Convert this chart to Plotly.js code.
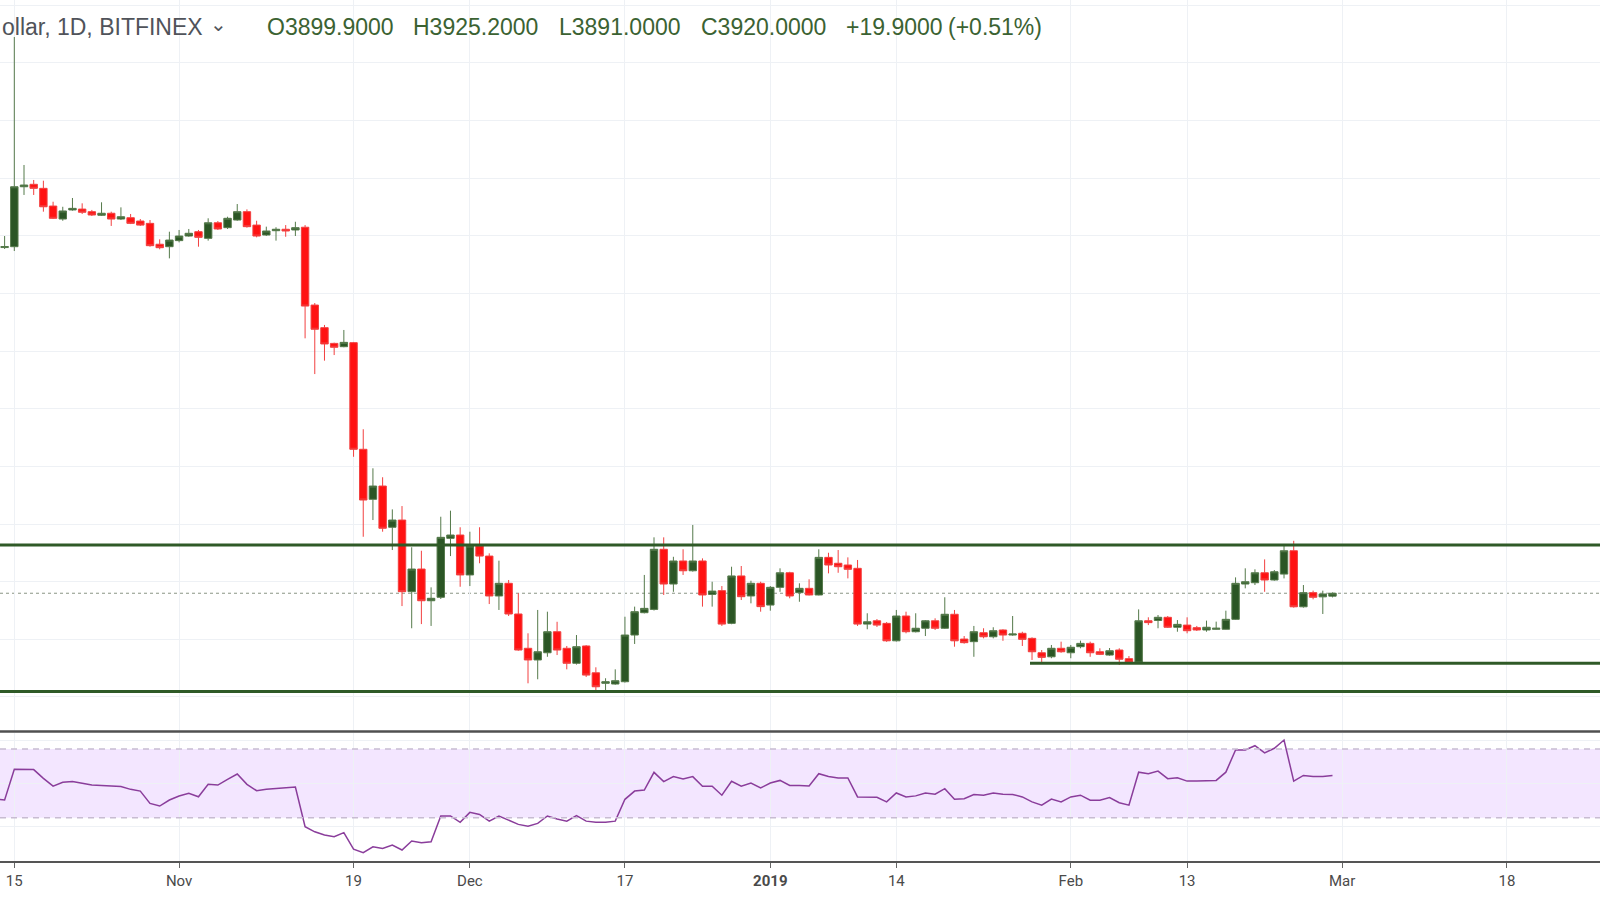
<!DOCTYPE html>
<html>
<head>
<meta charset="utf-8">
<script src="https://cdn.plot.ly/plotly-3.0.1.min.js"></script>
<style>html,body{margin:0;padding:0;background:#fff;}#chart{width:1600px;height:900px;}</style>
</head>
<body>
<div id="chart"></div>
<script>
// Daily candles, first candle 2018-10-14
const firstCandleDate = '2018-10-14';
const open = [6319,6325,6741,6758,6730,6607,6517,6580,6586,6568,6543,6557,6517,6526,6503,6487,6342,6325,6367,6399,6429,6383,6491,6457,6510,6568,6475,6406,6436,6446,6441,6460,5920,5763,5654,5631,5659,4919,4572,4664,4378,4428,3931,4088,3868,3892,4301,4324,4047,4248,4178,3901,3989,3776,3538,3457,3507,3653,3538,3434,3554,3368,3295,3290,3306,3630,3785,3808,4225,3984,4144,4076,4144,3912,3938,3711,4040,3901,3989,3838,3961,4062,3924,3954,3908,4169,4128,4116,4093,3706,3729,3711,3590,3762,3653,3677,3729,3677,3774,3602,3584,3646,3618,3665,3630,3642,3607,3507,3479,3538,3507,3549,3572,3514,3491,3526,3466,3443,3729,3731,3753,3684,3699,3681,3665,3670,3670,3739,3984,3993,4062,4012,4053,4215,3826,3924,3895,3899.9];
const high = [6399,7780,6892,6788,6783,6637,6602,6663,6626,6580,6633,6568,6598,6552,6517,6510,6376,6429,6441,6448,6441,6522,6503,6533,6621,6584,6505,6464,6460,6475,6498,6475,5934,5782,5659,5747,5664,5058,4787,4725,4502,4525,4239,4215,3961,4451,4493,4378,4347,4378,4197,4146,4012,3920,3642,3804,3792,3722,3554,3630,3560,3406,3330,3392,3757,3827,4047,4308,4308,4173,4225,4394,4162,4000,3970,4104,4109,4007,4000,3970,4093,4069,3989,4017,4225,4201,4220,4169,4151,3781,3741,3720,3804,3792,3781,3734,3746,3892,3804,3623,3693,3677,3684,3670,3762,3653,3614,3526,3561,3584,3561,3591,3584,3538,3540,3538,3484,3808,3753,3769,3762,3734,3753,3693,3730,3723,3799,4030,4093,4086,4155,4081,4262,4284,3977,3938,3938,3925.2];
const low = [6309,6295,6684,6684,6568,6517,6505,6575,6552,6538,6538,6469,6510,6482,6469,6325,6307,6244,6355,6394,6325,6367,6441,6448,6505,6457,6390,6399,6367,6394,6399,5689,5441,5534,5573,5627,4867,4312,4428,4347,4220,3831,3677,3706,3693,3880,4178,3965,3970,4128,3845,3804,3762,3521,3295,3323,3479,3491,3392,3425,3339,3237,3237,3285,3300,3568,3780,3800,3908,3930,4047,4070,3827,3827,3693,3705,3873,3850,3792,3799,3930,3885,3861,3905,3905,4058,4062,4023,3693,3670,3686,3583,3585,3642,3648,3623,3665,3672,3549,3570,3479,3607,3607,3590,3625,3554,3457,3434,3469,3507,3469,3538,3479,3491,3486,3422,3434,3440,3699,3677,3679,3653,3642,3658,3653,3668,3668,3735,3954,3977,3930,4007,4023,3820,3820,3878,3776,3891];
const close = [6326,6741,6753,6730,6602,6522,6573,6591,6564,6545,6557,6517,6533,6487,6475,6332,6318,6371,6399,6418,6390,6491,6448,6522,6568,6464,6399,6434,6446,6434,6457,5913,5752,5650,5627,5661,4919,4567,4664,4371,4428,3931,4088,3868,3885,4308,4324,4047,4248,4178,3901,3989,3776,3526,3457,3514,3653,3526,3434,3549,3352,3271,3306,3313,3630,3792,3815,4225,3984,4144,4076,4144,3908,3935,3706,4040,3896,3989,3827,3961,4062,3901,3954,3908,4169,4116,4104,4086,3706,3722,3699,3590,3762,3653,3677,3729,3677,3774,3590,3577,3653,3618,3660,3630,3637,3600,3514,3475,3538,3514,3545,3572,3507,3496,3521,3462,3443,3729,3716,3753,3684,3704,3660,3665,3684,3677,3739,3989,4000,4062,4012,4069,4215,3826,3924,3892,3915,3920];

// RSI(14), first value 2018-10-13
const firstRsiDate = '2018-10-13';
const rsi = [41,40.3,58.2,58.3,58.0,52.9,48.4,50.6,51.0,50.0,49.0,48.8,48.4,48.2,46.5,45.5,38.3,36.8,40.3,42.6,44.2,42.2,49.4,49.0,52.3,55.4,49.4,45.7,46.5,47.1,47.3,47.9,24.8,21.8,19.9,18.9,21.3,11.7,9.6,13.1,12.1,14.1,11.2,16.4,15.4,16.0,31.0,31.0,27.3,33.1,31.9,28.0,31.0,28.6,26.1,25.1,26.7,31.0,29.2,28.0,31.2,28.0,27.3,27.3,28.0,40.7,45.5,46.1,56.4,51.0,53.9,52.5,53.9,48.3,48.3,43.1,51.2,48.3,50.2,47.3,50.2,51.7,48.8,48.8,48.5,55.6,54.0,53.1,53.1,42.1,42.1,41.9,39.2,44.4,42.1,42.7,44.4,43.7,46.9,40.8,41.0,43.5,43.1,44.4,43.7,43.5,42.1,39.2,37.3,40.8,39.2,42.1,43.1,40.2,40.2,41.7,38.7,37.3,56.5,55.6,57.1,52.7,53.3,51.3,51.3,51.7,51.7,56.5,69.4,69.4,71.9,67.7,70.4,75.2,51.3,54.6,54.0,54.0,54.6];
const rsiBands = [30, 70];

// Horizontal drawn levels
const levels = [4255, 3238];
const shortLevel = 3434;
const shortLevelStart = '2019-01-27 19:00';
const lastClose = 3920;

// Time axis ticks
const tickDates = ['2018-10-15','2018-11-01','2018-11-19','2018-12-01','2018-12-17','2019-01-01','2019-01-14','2019-02-01','2019-02-13','2019-03-01','2019-03-18'];
const tickLabels = ['15','Nov','19','Dec','17','<b>2019</b>','14','Feb','13','Mar','18'];

// Header texts
const symbolText = 'ollar, 1D, BITFINEX';
const ohlcLabels = ['O3899.9000','H3925.2000','L3891.0000','C3920.0000','+19.9000','(+0.51%)'];

function dayList(start, n) {
  const t0 = Date.parse(start + 'T00:00:00Z');
  const out = [];
  for (let i = 0; i < n; i++) out.push(new Date(t0 + i * 86400000).toISOString().slice(0, 10));
  return out;
}
const candleDates = dayList(firstCandleDate, open.length);
const rsiDates = dayList(firstRsiDate, rsi.length);

const W = 1600, H = 900;
const py = (px) => 1 - px / H;

const traces = [
  {
    type: 'candlestick', x: candleDates, open: open, high: high, low: low, close: close,
    xaxis: 'x', yaxis: 'y', hoverinfo: 'skip', whiskerwidth: 0,
    increasing: {line: {color: '#557a4b', width: 1}, fillcolor: '#2b5625'},
    decreasing: {line: {color: '#f24040', width: 1}, fillcolor: '#ff1212'},
    showlegend: false
  },
  {
    type: 'scatter', mode: 'lines', x: rsiDates, y: rsi, xaxis: 'x', yaxis: 'y2',
    line: {color: '#8a3d9b', width: 1.5}, hoverinfo: 'skip', showlegend: false
  }
];

const shapes = [
  // RSI band
  {type: 'rect', xref: 'paper', x0: 0, x1: 1, yref: 'y2', y0: rsiBands[0], y1: rsiBands[1],
   fillcolor: 'rgba(165,60,255,0.13)', line: {width: 0}, layer: 'below'},
  {type: 'line', xref: 'paper', x0: 0, x1: 1, yref: 'y2', y0: rsiBands[1], y1: rsiBands[1],
   line: {color: '#c8bcd2', width: 1.5, dash: '6px,5px'}},
  {type: 'line', xref: 'paper', x0: 0, x1: 1, yref: 'y2', y0: rsiBands[0], y1: rsiBands[0],
   line: {color: '#c8bcd2', width: 1.5, dash: '6px,5px'}},
  // pane separator
  {type: 'line', xref: 'paper', x0: 0, x1: 1, yref: 'paper', y0: py(731.5), y1: py(731.5),
   line: {color: '#505050', width: 2.5}},
  // last price dotted line
  {type: 'line', xref: 'paper', x0: 0, x1: 1, yref: 'y', y0: lastClose, y1: lastClose,
   line: {color: '#8a9484', width: 1, dash: 'dot'}, layer: 'below'},
  // drawn levels
  ...levels.map(v => ({type: 'line', xref: 'paper', x0: 0, x1: 1, yref: 'y', y0: v, y1: v,
    line: {color: '#2f5a27', width: 3}})),
  {type: 'line', xref: 'x', x0: shortLevelStart, x1: '2019-04-30', yref: 'y', y0: shortLevel, y1: shortLevel,
   line: {color: '#2f5a27', width: 3}}
];

const ohlcX = [265, 411, 557, 699, 844, 946];
const annotations = [
  {xref: 'paper', yref: 'paper', x: 0, y: py(27), xanchor: 'left', yanchor: 'middle', showarrow: false,
   text: symbolText, font: {family: 'Liberation Sans, Arial, sans-serif', size: 23, color: '#50535a'}},
  {xref: 'paper', yref: 'paper', x: 208 / W, y: py(24), xanchor: 'left', yanchor: 'middle', showarrow: false,
   text: '⌄', font: {family: 'DejaVu Sans, sans-serif', size: 20, color: '#50535a'}},
  ...ohlcLabels.map((t, i) => ({xref: 'paper', yref: 'paper', x: ohlcX[i] / W, y: py(27), xanchor: 'left', yanchor: 'middle',
    showarrow: false, text: t, font: {family: 'Liberation Sans, Arial, sans-serif', size: 23, color: '#3b6232'}}))
];

const layout = {
  width: W, height: H, margin: {l: 0, r: 0, t: 0, b: 0},
  paper_bgcolor: '#ffffff', plot_bgcolor: '#ffffff', showlegend: false,
  boxgap: 0.15, boxgroupgap: 0.1,
  xaxis: {
    type: 'date', range: ['2018-10-13 12:34', '2019-03-27 14:24'], anchor: 'y2',
    tickvals: tickDates, ticktext: tickLabels,
    showgrid: true, gridcolor: '#eef1f5', gridwidth: 1,
    showline: true, linecolor: '#555555', linewidth: 2,
    ticks: 'outside', ticklen: 5, tickcolor: '#666666', tickwidth: 1,
    tickfont: {family: 'Roboto, Liberation Sans, sans-serif', size: 15, color: '#4a4a4a'},
    rangeslider: {visible: false}, zeroline: false, fixedrange: true
  },
  yaxis: {
    domain: [py(731), 1], range: [2964, 8037], tick0: 0, dtick: 400,
    showticklabels: false, showgrid: true, gridcolor: '#eef1f5', zeroline: false, fixedrange: true
  },
  yaxis2: {
    domain: [py(861), py(733)], range: [4.8, 79.3], tickvals: [25, 50, 75],
    showticklabels: false, showgrid: true, gridcolor: '#eef1f5', zeroline: false, fixedrange: true
  },
  shapes: shapes,
  annotations: annotations
};

Plotly.newPlot('chart', traces, layout, {displayModeBar: false, staticPlot: true});
</script>
</body>
</html>
